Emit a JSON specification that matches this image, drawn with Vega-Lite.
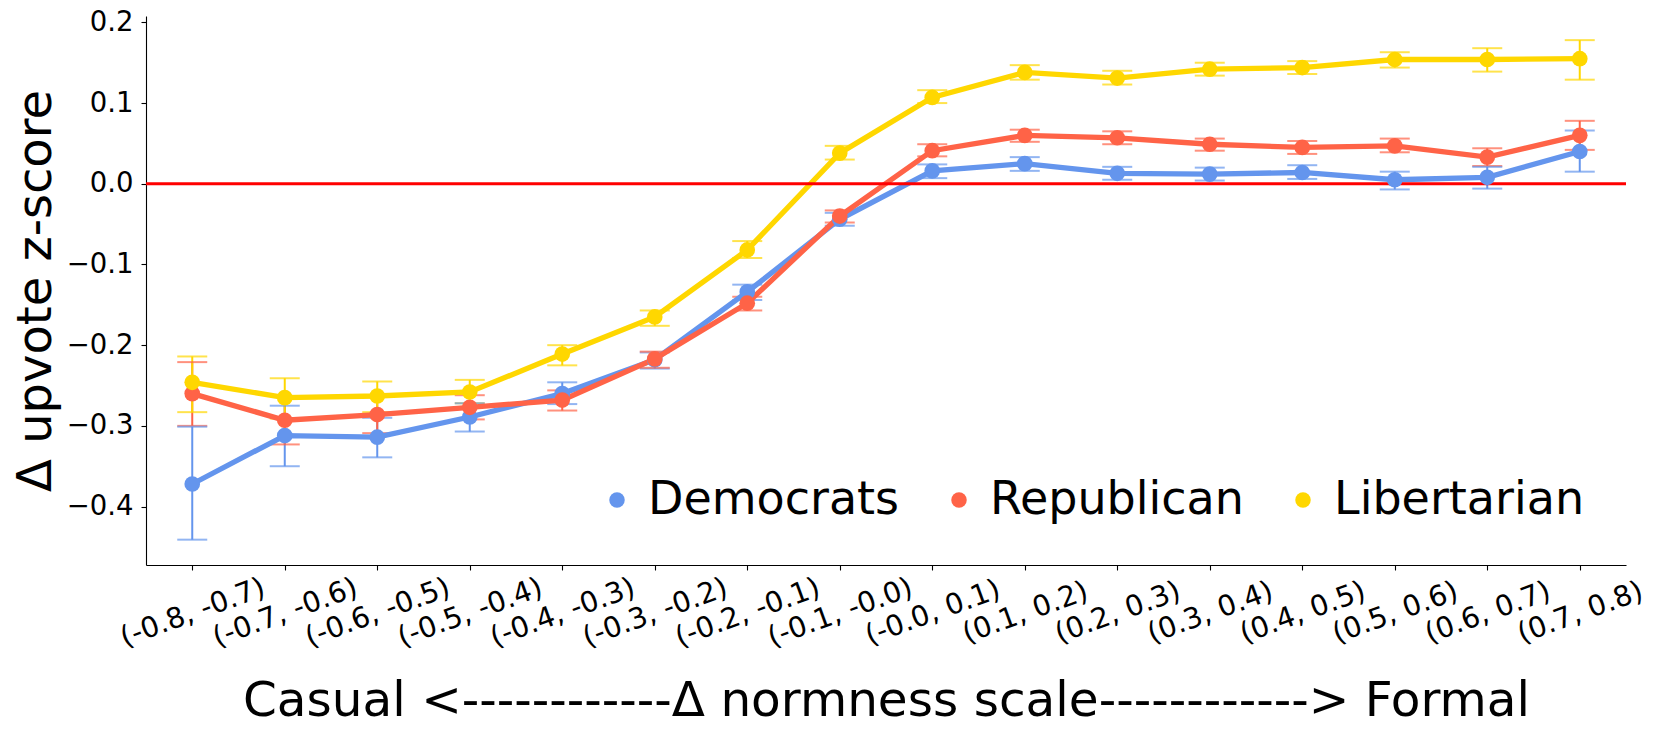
{
  "$schema": "https://vega.github.io/schema/vega-lite/v6.json",
  "width": 1480,
  "height": 549,
  "autosize": {"type": "none"},
  "padding": {"left": 146, "top": 16, "right": 35, "bottom": 169},
  "background": "white",
  "config": {
    "view": {"stroke": null},
    "font": "DejaVu Sans",
    "axis": {"grid": false, "domainColor": "#000000", "domainWidth": 1.1, "tickColor": "#000000", "tickWidth": 1.1, "tickSize": 5, "labelColor": "#000000", "titleColor": "#000000", "labelFont": "DejaVu Sans", "titleFont": "DejaVu Sans", "titleFontWeight": "normal", "labelFontSize": 27.5, "titleFontSize": 48}
  },
  "data": {
    "values": [
      {"bin": "(-0.8, -0.7)", "party": "Democrats", "v": -0.372, "lo": -0.441, "hi": -0.301},
      {"bin": "(-0.7, -0.6)", "party": "Democrats", "v": -0.312, "lo": -0.350, "hi": -0.275},
      {"bin": "(-0.6, -0.5)", "party": "Democrats", "v": -0.314, "lo": -0.339, "hi": -0.290},
      {"bin": "(-0.5, -0.4)", "party": "Democrats", "v": -0.289, "lo": -0.307, "hi": -0.272},
      {"bin": "(-0.4, -0.3)", "party": "Democrats", "v": -0.260, "lo": -0.273, "hi": -0.246},
      {"bin": "(-0.3, -0.2)", "party": "Democrats", "v": -0.218, "lo": -0.229, "hi": -0.209},
      {"bin": "(-0.2, -0.1)", "party": "Democrats", "v": -0.134, "lo": -0.144, "hi": -0.125},
      {"bin": "(-0.1, -0.0)", "party": "Democrats", "v": -0.044, "lo": -0.052, "hi": -0.036},
      {"bin": "(-0.0, 0.1)", "party": "Democrats", "v": 0.016, "lo": 0.007, "hi": 0.024},
      {"bin": "(0.1, 0.2)", "party": "Democrats", "v": 0.025, "lo": 0.016, "hi": 0.033},
      {"bin": "(0.2, 0.3)", "party": "Democrats", "v": 0.013, "lo": 0.005, "hi": 0.021},
      {"bin": "(0.3, 0.4)", "party": "Democrats", "v": 0.012, "lo": 0.004, "hi": 0.020},
      {"bin": "(0.4, 0.5)", "party": "Democrats", "v": 0.014, "lo": 0.006, "hi": 0.023},
      {"bin": "(0.5, 0.6)", "party": "Democrats", "v": 0.005, "lo": -0.007, "hi": 0.015},
      {"bin": "(0.6, 0.7)", "party": "Democrats", "v": 0.008, "lo": -0.006, "hi": 0.021},
      {"bin": "(0.7, 0.8)", "party": "Democrats", "v": 0.040, "lo": 0.015, "hi": 0.066},
      {"bin": "(-0.8, -0.7)", "party": "Republican", "v": -0.260, "lo": -0.300, "hi": -0.221},
      {"bin": "(-0.7, -0.6)", "party": "Republican", "v": -0.293, "lo": -0.323, "hi": -0.263},
      {"bin": "(-0.6, -0.5)", "party": "Republican", "v": -0.286, "lo": -0.309, "hi": -0.263},
      {"bin": "(-0.5, -0.4)", "party": "Republican", "v": -0.277, "lo": -0.292, "hi": -0.262},
      {"bin": "(-0.4, -0.3)", "party": "Republican", "v": -0.268, "lo": -0.281, "hi": -0.256},
      {"bin": "(-0.3, -0.2)", "party": "Republican", "v": -0.217, "lo": -0.228, "hi": -0.208},
      {"bin": "(-0.2, -0.1)", "party": "Republican", "v": -0.148, "lo": -0.157, "hi": -0.140},
      {"bin": "(-0.1, -0.0)", "party": "Republican", "v": -0.040, "lo": -0.048, "hi": -0.033},
      {"bin": "(-0.0, 0.1)", "party": "Republican", "v": 0.041, "lo": 0.034, "hi": 0.049},
      {"bin": "(0.1, 0.2)", "party": "Republican", "v": 0.060, "lo": 0.052, "hi": 0.067},
      {"bin": "(0.2, 0.3)", "party": "Republican", "v": 0.057, "lo": 0.049, "hi": 0.065},
      {"bin": "(0.3, 0.4)", "party": "Republican", "v": 0.049, "lo": 0.041, "hi": 0.056},
      {"bin": "(0.4, 0.5)", "party": "Republican", "v": 0.045, "lo": 0.037, "hi": 0.053},
      {"bin": "(0.5, 0.6)", "party": "Republican", "v": 0.047, "lo": 0.039, "hi": 0.056},
      {"bin": "(0.6, 0.7)", "party": "Republican", "v": 0.033, "lo": 0.022, "hi": 0.044},
      {"bin": "(0.7, 0.8)", "party": "Republican", "v": 0.060, "lo": 0.042, "hi": 0.078},
      {"bin": "(-0.8, -0.7)", "party": "Libertarian", "v": -0.246, "lo": -0.283, "hi": -0.214},
      {"bin": "(-0.7, -0.6)", "party": "Libertarian", "v": -0.265, "lo": -0.291, "hi": -0.241},
      {"bin": "(-0.6, -0.5)", "party": "Libertarian", "v": -0.263, "lo": -0.283, "hi": -0.245},
      {"bin": "(-0.5, -0.4)", "party": "Libertarian", "v": -0.258, "lo": -0.272, "hi": -0.243},
      {"bin": "(-0.4, -0.3)", "party": "Libertarian", "v": -0.211, "lo": -0.225, "hi": -0.200},
      {"bin": "(-0.3, -0.2)", "party": "Libertarian", "v": -0.165, "lo": -0.176, "hi": -0.157},
      {"bin": "(-0.2, -0.1)", "party": "Libertarian", "v": -0.082, "lo": -0.092, "hi": -0.071},
      {"bin": "(-0.1, -0.0)", "party": "Libertarian", "v": 0.038, "lo": 0.030, "hi": 0.047},
      {"bin": "(-0.0, 0.1)", "party": "Libertarian", "v": 0.107, "lo": 0.100, "hi": 0.116},
      {"bin": "(0.1, 0.2)", "party": "Libertarian", "v": 0.138, "lo": 0.129, "hi": 0.147},
      {"bin": "(0.2, 0.3)", "party": "Libertarian", "v": 0.131, "lo": 0.123, "hi": 0.140},
      {"bin": "(0.3, 0.4)", "party": "Libertarian", "v": 0.142, "lo": 0.134, "hi": 0.150},
      {"bin": "(0.4, 0.5)", "party": "Libertarian", "v": 0.144, "lo": 0.136, "hi": 0.152},
      {"bin": "(0.5, 0.6)", "party": "Libertarian", "v": 0.154, "lo": 0.144, "hi": 0.163},
      {"bin": "(0.6, 0.7)", "party": "Libertarian", "v": 0.154, "lo": 0.139, "hi": 0.168},
      {"bin": "(0.7, 0.8)", "party": "Libertarian", "v": 0.155, "lo": 0.129, "hi": 0.178}
    ]
  },
  "encoding": {
    "x": {
      "field": "bin", "type": "ordinal", "sort": null,
      "scale": {"type": "point", "padding": 0.5},
      "axis": {
        "title": "Casual <------------Δ normness scale------------> Formal",
        "labelAngle": -20, "labelAlign": "center", "labelBaseline": "middle", "labelFontSize": 28.5,
        "labelPadding": 42, "labelOverlap": false, "labelBound": false, "labelLimit": 0,
        "titleX": 740, "titleY": 150, "titleFontSize": 48.5, "titleAlign": "center", "titleBaseline": "alphabetic"
      }
    },
    "color": {
      "field": "party", "type": "nominal",
      "scale": {"domain": ["Democrats", "Republican", "Libertarian"], "range": ["#6495ED", "#FF6347", "#FFD700"]},
      "legend": {
        "title": null, "orient": "none", "direction": "horizontal",
        "legendX": 448, "legendY": 461, "padding": 0,
        "symbolType": "circle", "symbolSize": 240, "symbolStrokeWidth": 0, "symbolOpacity": 1,
        "labelFontSize": 46, "labelFont": "DejaVu Sans", "labelColor": "#000000", "labelLimit": 500,
        "labelOffset": 8, "columnPadding": 36
      }
    }
  },
  "layer": [
    {
      "mark": {"type": "rule", "strokeWidth": 2},
      "encoding": {
        "y": {"field": "lo", "type": "quantitative"},
        "y2": {"field": "hi"}
      }
    },
    {
      "mark": {"type": "tick", "thickness": 2, "size": 30, "orient": "horizontal"},
      "encoding": {"y": {"field": "lo", "type": "quantitative"}}
    },
    {
      "mark": {"type": "tick", "thickness": 2, "size": 30, "orient": "horizontal"},
      "encoding": {"y": {"field": "hi", "type": "quantitative"}}
    },
    {
      "mark": {"type": "line", "strokeWidth": 5.3},
      "encoding": {"y": {"field": "v", "type": "quantitative"}}
    },
    {
      "data": {"values": [{"z": 0}]},
      "mark": {"type": "rule", "color": "#FF0000", "strokeWidth": 3},
      "encoding": {"y": {"field": "z", "type": "quantitative"}, "x": null, "color": null}
    },
    {
      "mark": {"type": "circle", "size": 246, "opacity": 1},
      "encoding": {
        "y": {
          "field": "v", "type": "quantitative",
          "scale": {"domain": [-0.4724, 0.2079], "nice": false, "zero": false},
          "axis": {
            "title": "Δ upvote z-score", "values": [-0.4, -0.3, -0.2, -0.1, 0, 0.1, 0.2], "format": ".1f",
            "labelPadding": 8, "titleAngle": -90, "titleX": -96, "titleY": 274.5,
            "titleAlign": "center", "titleBaseline": "alphabetic"
          }
        }
      }
    }
  ]
}
